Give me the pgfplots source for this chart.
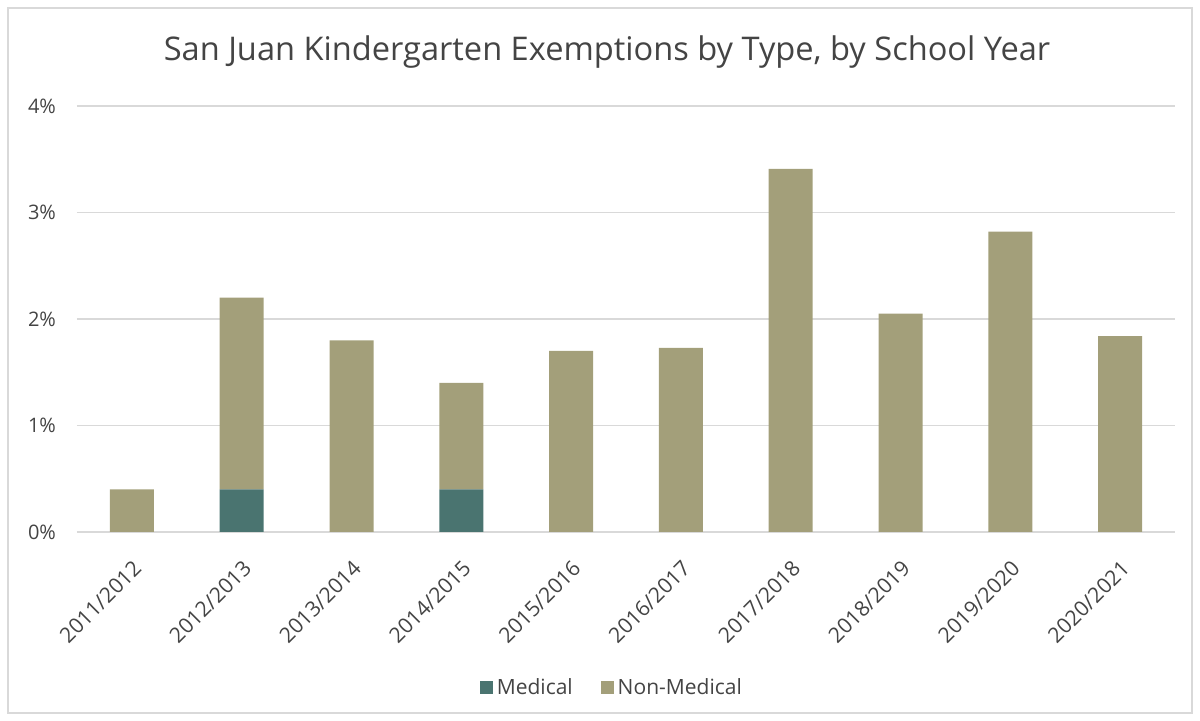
\documentclass[border=0pt]{standalone}
\usepackage{pgfplots}
\pgfplotsset{compat=1.18}
\usepackage{fontspec}
\setmainfont{Open Sans}
\definecolor{med}{HTML}{4A7470}
\definecolor{nonmed}{HTML}{A39F7A}
\definecolor{gridc}{HTML}{D9D9D9}
\definecolor{txt}{HTML}{444444}
\begin{document}
\begin{tikzpicture}[x=0.5pt,y=0.5pt]
\path (0,0) rectangle (1200,721);
\draw[gridc, line width=0.8pt] (8,8) rectangle (1192,713);
\node[txt, font=\fontsize{16.3}{19}\selectfont] at (607,669) {San Juan Kindergarten Exemptions by Type, by School Year};
\begin{axis}[
  at={(38.5pt,94.5pt)}, anchor=south west,
  scale only axis, width=549pt, height=213pt,
  ybar stacked, bar width=22pt,
  xmin=-0.5, xmax=9.5, ymin=0, ymax=4,
  xtick={0,...,9},
  xticklabels={2011/2012,2012/2013,2013/2014,2014/2015,2015/2016,2016/2017,2017/2018,2018/2019,2019/2020,2020/2021},
  xticklabel style={xshift=0pt, yshift=-12pt, rotate=45, anchor=north east, font=\fontsize{10.6}{12}\selectfont, text=txt, inner sep=1pt},
  ytick={0,1,2,3,4},
  yticklabels={0\%,1\%,2\%,3\%,4\%},
  yticklabel style={font=\fontsize{10}{12}\selectfont, text=txt, xshift=-7pt},
  ymajorgrids, grid style={gridc, line width=0.75pt},
  axis line style={draw=none},
  major tick style={draw=none},
  legend style={at={(0.488,-0.366)}, anchor=center, draw=none, legend columns=2,
    font=\fontsize{10.5}{12}\selectfont, text=txt,
    /tikz/every even column/.append style={column sep=12pt}},
  legend image code/.code={\fill[#1] (0pt,-3.2pt) rectangle (6.5pt,3.3pt);},
]
\addplot[fill=med, draw=none] coordinates {(0,0) (1,0.4) (2,0) (3,0.4) (4,0) (5,0) (6,0) (7,0) (8,0) (9,0)};
\addplot[fill=nonmed, draw=none] coordinates {(0,0.4) (1,1.8) (2,1.8) (3,1.0) (4,1.7) (5,1.73) (6,3.41) (7,2.05) (8,2.82) (9,1.84)};
\legend{Medical, Non-Medical}
\end{axis}
\end{tikzpicture}
\end{document}
